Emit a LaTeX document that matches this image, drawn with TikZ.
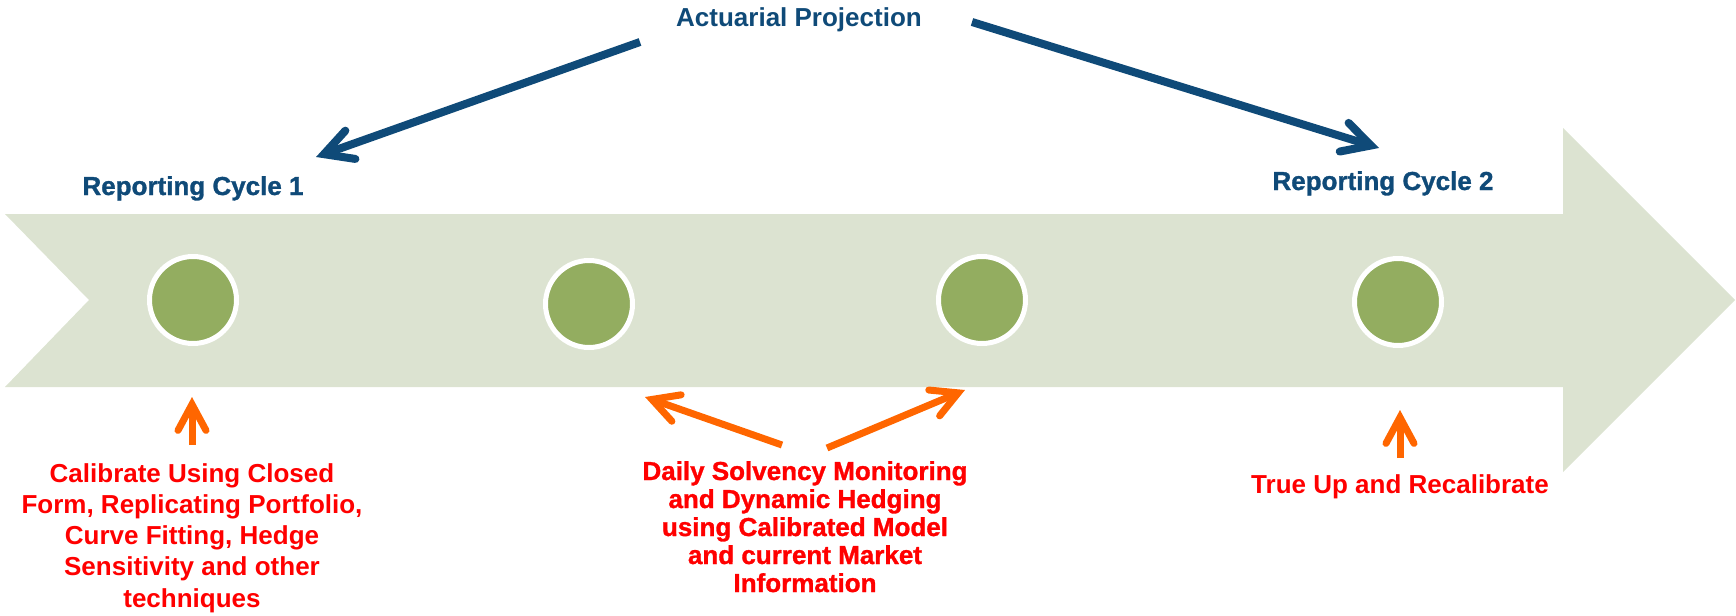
\documentclass[tikz,border=0pt]{standalone}
\usepackage{fontspec}
\setmainfont{Liberation Sans}
\newfontfamily\heavyfont[FakeBold=1.2]{Liberation Sans Bold}
\usetikzlibrary{arrows.meta}
\definecolor{bodycol}{RGB}{220,227,209}
\definecolor{dotgreen}{RGB}{147,173,96}
\definecolor{navy}{HTML}{0F4A78}
\definecolor{orng}{HTML}{FF6600}
\definecolor{redtxt}{HTML}{FF0000}
\begin{document}
\begin{tikzpicture}[x=0.5pt,y=-0.5pt,
  dot/.style={circle,draw=white,line width=2.5pt,fill=dotgreen,minimum size=43.5pt,inner sep=0pt},
  titlelbl/.style={text=navy,font=\bfseries\fontsize{13pt}{15pt}\selectfont,inner sep=0pt,anchor=base},
  cyclelbl/.style={text=navy,font=\heavyfont\fontsize{13pt}{15pt}\selectfont,inner sep=0pt,anchor=base},
  notelbl/.style={text=redtxt,font=\bfseries\fontsize{13pt}{15.6pt}\selectfont,inner sep=0pt,anchor=base,align=center},
  heavynote/.style={text=redtxt,font=\heavyfont\fontsize{13pt}{14pt}\selectfont,inner sep=0pt,anchor=base,align=center},
  bluearrow/.style={draw=navy,line width=4pt,-{Straight Barb[length=14pt,width=15pt,line cap=round,line join=miter]}},
  orangearrow/.style={draw=orng,line width=3.5pt,-{Straight Barb[length=13pt,width=14pt,line cap=round,line join=miter]}}
]
\useasboundingbox (0,0) rectangle (1736,616);
% timeline arrow body
\fill[bodycol] (5,214) -- (1563,214) -- (1563,128) -- (1735,300) -- (1563,472)
  -- (1563,387) -- (5,387) -- (89,300) -- cycle;
% milestone dots
\node[dot] (c1) at (193,300) {};
\node[dot] (c2) at (589,304) {};
\node[dot] (c3) at (982,300) {};
\node[dot] (c4) at (1398,302) {};
% labels (multi-line nodes: base anchor = last line's baseline)
\node[titlelbl] (ap) at (799,26) {Actuarial Projection};
\node[cyclelbl] (rc1) at (193,195) {Reporting Cycle 1};
\node[cyclelbl] (rc2) at (1383,190) {Reporting Cycle 2};
\node[notelbl] (t1) at (192,607) {Calibrate Using Closed\\Form, Replicating Portfolio,\\Curve Fitting, Hedge\\Sensitivity and other\\techniques};
\node[heavynote] (t2) at (805,592) {Daily Solvency Monitoring\\and Dynamic Hedging\\using Calibrated Model\\and current Market\\Information};
\node[notelbl] (t3) at (1400,493) {True Up and Recalibrate};
% connector end points
\coordinate (b1s) at (640,42);  \coordinate (b1e) at (316,157);
\coordinate (b2s) at (972,22);  \coordinate (b2e) at (1379,148);
\coordinate (o1s) at (192,445); \coordinate (o1e) at (192,397);
\coordinate (o2s) at (782,445); \coordinate (o2e) at (645,397);
\coordinate (o3s) at (827,448); \coordinate (o3e) at (965,390);
\coordinate (o4s) at (1400,458); \coordinate (o4e) at (1400,410);
% connectors
\draw[bluearrow] (b1s) -- (b1e);
\draw[bluearrow] (b2s) -- (b2e);
\draw[orangearrow] (o1s) -- (o1e);
\draw[orangearrow] (o2s) -- (o2e);
\draw[orangearrow] (o3s) -- (o3e);
\draw[orangearrow] (o4s) -- (o4e);
\end{tikzpicture}
\end{document}
